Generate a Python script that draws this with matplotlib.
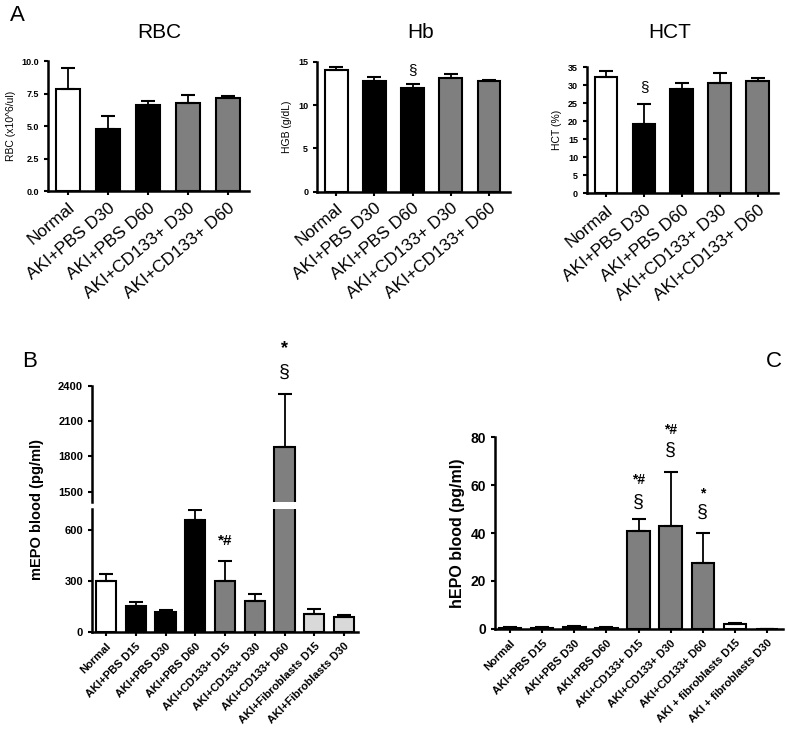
import matplotlib.pyplot as plt
import numpy as np

plt.rcParams['font.family'] = ['Liberation Sans', 'DejaVu Sans']

# --- panel A data ---
groups_a = ["Normal", "AKI+PBS D30", "AKI+PBS D60", "AKI+CD133+ D30", "AKI+CD133+ D60"]
colors_a = ["white", "black", "black", "#7f7f7f", "#7f7f7f"]
rbc = [7.85, 4.8, 6.6, 6.8, 7.2]
rbc_err = [1.65, 1.0, 0.35, 0.6, 0.15]
hgb = [14.1, 12.8, 11.95, 13.1, 12.8]
hgb_err = [0.3, 0.5, 0.5, 0.45, 0.1]
hct = [32.3, 19.3, 29.0, 30.6, 31.3]
hct_err = [1.7, 5.5, 1.5, 2.7, 0.6]

# --- panel B data ---
groups_b = ["Normal", "AKI+PBS D15", "AKI+PBS D30", "AKI+PBS D60",
            "AKI+CD133+ D15", "AKI+CD133+ D30", "AKI+CD133+ D60",
            "AKI+Fibroblasts D15", "AKI+Fibroblasts D30"]
colors_b = ["white", "black", "black", "black", "#7f7f7f", "#7f7f7f", "#7f7f7f",
            "#d9d9d9", "#d9d9d9"]
mepo = [300, 150, 120, 660, 300, 185, 1880, 105, 90]
mepo_err = [40, 25, 10, 60, 120, 40, 450, 30, 10]

# --- panel C data ---
groups_c = ["Normal", "AKI+PBS D15", "AKI+PBS D30", "AKI+PBS D60",
            "AKI+CD133+ D15", "AKI+CD133+ D30", "AKI+CD133+ D60",
            "AKI + fibroblasts D15", "AKI + fibroblasts D30"]
colors_c = ["black", "black", "black", "black", "#7f7f7f", "#7f7f7f", "#7f7f7f",
            "white", "white"]
hepo = [0.5, 0.5, 0.8, 0.5, 41, 43, 27.5, 2.0, 0.0]
hepo_err = [0.3, 0.3, 0.5, 0.3, 4.8, 22.5, 12.7, 0.3, 0.0]

fig = plt.figure(figsize=(7.87, 7.55), dpi=100)


def style(ax):
    for s in ["top", "right"]:
        ax.spines[s].set_visible(False)
    for s in ["left", "bottom"]:
        ax.spines[s].set_linewidth(1.8)
    ax.tick_params(width=1.5, length=3)


def bars(ax, vals, errs, cols, width):
    x = np.arange(len(vals))
    ax.bar(x, vals, width=width, color=cols, edgecolor="black", linewidth=1.5,
           yerr=[np.zeros(len(errs)), errs], capsize=5,
           error_kw=dict(elinewidth=1.3, capthick=1.5, ecolor="black"))
    return x


# ---- A panels ----
specs = [
    ([0.061, 0.747, 0.256, 0.172], rbc, rbc_err, "RBC", "RBC (x10^6/ul)", 10, [0, 2.5, 5, 7.5, 10], "{:.1f}", 0.203),
    ([0.403, 0.746, 0.245, 0.172], hgb, hgb_err, "Hb", "HGB (g/dL)", 15, [0, 5, 10, 15], "{:.0f}", 0.534),
    ([0.746, 0.744, 0.243, 0.167], hct, hct_err, "HCT", "HCT (%)", 35, range(0, 36, 5), "{:.0f}", 0.851),
]
for rect, vals, errs, title, ylab, ymax, ticks, fmt, tx in specs:
    ax = fig.add_axes(rect)
    style(ax)
    x = bars(ax, vals, errs, colors_a, 0.6)
    ax.set_xlim(-0.5, 4.55)
    ax.set_ylim(0, ymax)
    ax.set_yticks(list(ticks))
    ax.set_yticklabels([fmt.format(t) for t in ticks], fontsize=6.5, fontweight="bold")
    ax.set_xticks(x)
    ax.set_xticklabels(groups_a, rotation=40, ha="right", rotation_mode="anchor", fontsize=12.5)
    ax.set_ylabel(ylab, fontsize=7.5)
    fig.text(tx, 0.957, title, fontsize=15, ha="center", va="center")
    if title == "Hb":
        ax.text(2, 14.1, "§", ha="center", va="center", fontsize=11)
    if title == "HCT":
        ax.text(1, 29.4, "§", ha="center", va="center", fontsize=11)

fig.text(0.013, 0.979, "A", fontsize=16, va="center")
fig.text(0.028, 0.521, "B", fontsize=16, va="center")
fig.text(0.973, 0.521, "C", fontsize=16, va="center")

# ---- B panel (broken axis) ----
axu = fig.add_axes([0.117, 0.335, 0.338, 0.154])
axl = fig.add_axes([0.117, 0.163, 0.338, 0.163])
for ax in (axu, axl):
    style(ax)
    bars(ax, mepo, mepo_err, colors_b, 0.68)
    ax.set_xlim(-0.47, 8.47)
    ax.tick_params(labelsize=8)
axu.set_ylim(1410, 2400)
axu.set_yticks([1500, 1800, 2100, 2400])
axu.spines["bottom"].set_visible(False)
axu.tick_params(axis="x", bottom=False, labelbottom=False)
axl.set_ylim(0, 725)
axl.set_yticks([0, 300, 600])
for ax in (axu, axl):
    for lab in ax.get_yticklabels():
        lab.set_fontweight("bold")
xb = np.arange(len(groups_b))
axl.set_xticks(xb)
axl.set_xticklabels(groups_b, rotation=45, ha="right", rotation_mode="anchor",
                    fontsize=8, fontweight="bold")
fig.text(0.047, 0.325, "mEPO blood (pg/ml)", rotation=90, fontsize=10.5,
         fontweight="bold", ha="center", va="center")
axl.text(4, 537, "*#", ha="center", va="center", fontsize=11, fontweight="bold")
axu.text(6, 2512, "§", ha="center", va="center", fontsize=14, clip_on=False)
axu.text(6, 2720, "*", ha="center", va="center", fontsize=13, fontweight="bold", clip_on=False)

# ---- C panel ----
axc = fig.add_axes([0.629, 0.167, 0.366, 0.254])
style(axc)
xc = bars(axc, hepo, hepo_err, colors_c, 0.7)
axc.set_xlim(-0.47, 8.5)
axc.set_ylim(0, 80)
axc.set_yticks([0, 20, 40, 60, 80])
axc.set_yticklabels(["0", "20", "40", "60", "80"], fontsize=10, fontweight="bold")
axc.set_xticks(xc)
axc.set_xticklabels(groups_c, rotation=45, ha="right", rotation_mode="anchor",
                    fontsize=8, fontweight="bold")
axc.set_ylabel("hEPO blood (pg/ml)", fontsize=11.5, fontweight="bold")
marks = [(4, 62, "*#", 53), (5, 83, "*#", 74.6), (6, 56.7, "*", 48.7)]
for xi, ystar, s, ysec in marks:
    axc.text(xi, ystar, s, ha="center", va="center", fontsize=10, fontweight="bold", clip_on=False)
    axc.text(xi, ysec, "§", ha="center", va="center", fontsize=14, clip_on=False)

fig.savefig("out.png", dpi=100)
